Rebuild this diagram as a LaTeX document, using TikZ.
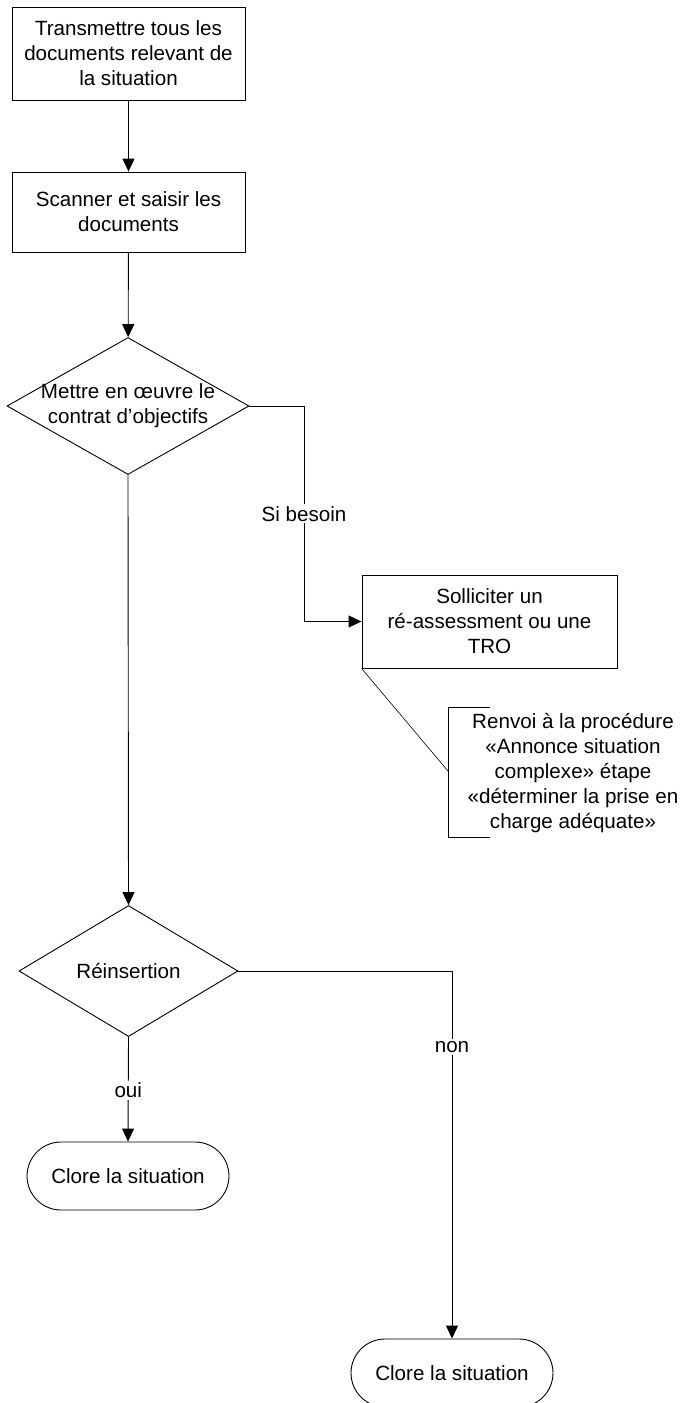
\documentclass[tikz,border=0pt]{standalone}
\usepackage{fontspec}
\setmainfont{Liberation Sans}
\usetikzlibrary{shapes.geometric,arrows.meta,calc}
\begin{document}
\begin{tikzpicture}[x=1pt,y=-1pt,
  every node/.style={font=\fontsize{20.6}{25}\selectfont},
  box/.style={draw, line width=0.9pt, rectangle, inner sep=0pt, align=center},
  dia/.style={draw, line width=0.9pt, diamond, inner sep=0pt},
  txt/.style={align=center, inner sep=0pt},
  term/.style={draw, line width=0.9pt, rectangle, rounded corners=34pt, minimum width=202pt, minimum height=68pt, inner sep=0pt},
  arr/.style={line width=0.9pt, -{Triangle[length=13pt,width=12pt]}},
  conn/.style={line width=0.9pt},
  lbl/.style={fill=white, inner sep=2pt},
  thin/.style={line width=0.6pt}]
\useasboundingbox (0,0) rectangle (680,1403);
\node[box, minimum width=233pt, minimum height=93pt] (b1) at (128.5,53.5) {Transmettre tous les\\documents relevant de\\la situation};
\node[box, minimum width=233pt, minimum height=80pt] (b2) at (128.5,212) {Scanner et saisir les\\documents};
\node[dia, minimum width=242pt, minimum height=137pt] (d1) at (128,406) {};
\node[txt] (d1t) at (d1) {Mettre en œuvre le\\contrat d’objectifs};
\node[box, minimum width=255pt, minimum height=93pt] (b3) at (489.5,621.5) {Solliciter un\\ré-assessment ou une\\TRO};
\node[txt] (ann) at (573,773) {Renvoi à la procédure\\«Annonce situation\\complexe» étape\\«déterminer la prise en\\charge adéquate»};
\node[dia, minimum width=219pt, minimum height=131pt] (d2) at (128.5,971) {};
\node[txt] (d2t) at (d2) {Réinsertion};
\node[term] (t1) at (128,1176) {Clore la situation};
\node[term] (t2) at (452,1373) {Clore la situation};
\coordinate (k1) at (304,406);
\coordinate (k2) at (452,971);
\coordinate (a1) at (448,707);
\coordinate (a2) at (448,837);
\coordinate (am) at (448,771);
\draw[arr] (b1) -- (b2);
\draw[arr] (b2) -- (d1);
\draw[arr] (d1.south) -- (d2.north);
\draw[arr] (d1.east) -- (k1) |- node[lbl, pos=0.25] {Si besoin} (b3.west);
\draw[arr] (d2.south) -- node[lbl, pos=0.51] {oui} (t1.north);
\draw[arr] (d2.east) -- (k2) -- node[lbl, pos=0.207] {non} (t2.north);
\draw[thin] (b3.south west) -- (am);
\draw[thin] ($(a1)+(42,0)$) -- (a1) -- (a2) -- ($(a2)+(42,0)$);
\end{tikzpicture}
\end{document}
